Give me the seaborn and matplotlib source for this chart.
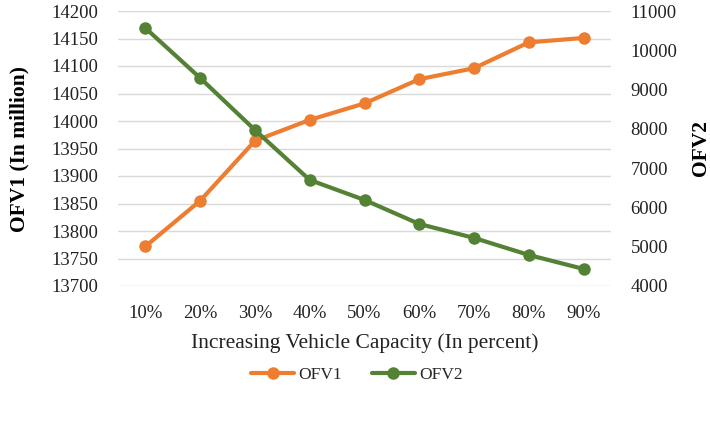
import matplotlib
matplotlib.use("Agg")
import matplotlib.pyplot as plt
import seaborn as sns
import pandas as pd
from matplotlib.lines import Line2D

categories = ["10%", "20%", "30%", "40%", "50%", "60%", "70%", "80%", "90%"]
ofv1 = [13772, 13855, 13964, 14002, 14032, 14076, 14096, 14143, 14151]
ofv2 = [10567, 9295, 7971, 6699, 6190, 5579, 5223, 4790, 4434]

df = pd.DataFrame({"cap": categories, "OFV1": ofv1, "OFV2": ofv2})

sns.set_theme(style="white")
plt.rcParams["font.family"] = ["Liberation Serif", "DejaVu Serif"]

orange = "#ED7D31"
green = "#548235"

fig = plt.figure(figsize=(7.10, 4.25), dpi=100)
ax = fig.add_axes([118/710, 1-286/425, (611-118)/710, (286-11)/425])
ax2 = ax.twinx()

sns.lineplot(data=df, x="cap", y="OFV1", ax=ax, color=orange, lw=3, marker="o",
             markersize=9, markeredgewidth=0, sort=False, zorder=3)
sns.lineplot(data=df, x="cap", y="OFV2", ax=ax2, color=green, lw=3, marker="o",
             markersize=9, markeredgewidth=0, sort=False, zorder=3)

ax.set_xlim(-0.5, len(categories) - 0.5)
ax.set_ylim(13700, 14200)
ax.set_yticks(range(13700, 14201, 50))
ax2.set_ylim(4000, 11000)
ax2.set_yticks(range(4000, 11001, 1000))

ax.grid(axis="y", color="#D9D9D9", lw=1)
ax.set_axisbelow(True)
for a in (ax, ax2):
    for s in a.spines.values():
        s.set_visible(False)
    a.tick_params(length=0, labelsize=13.5, colors="#222222")

ax.tick_params(axis="x", pad=14)
ax.tick_params(axis="y", pad=14)
ax2.tick_params(axis="y", pad=14)

ax.set_xlabel("Increasing Vehicle Capacity (In percent)", fontsize=15.5, labelpad=8, color="#222222")
ax.set_ylabel("OFV1 (In million)", fontsize=15.5, fontweight="bold", labelpad=16, color="black")
ax2.set_ylabel("OFV2", fontsize=15.5, fontweight="bold", labelpad=10, color="black")

handles = [Line2D([], [], color=orange, lw=3, marker="o", markersize=9, markeredgewidth=0),
           Line2D([], [], color=green, lw=3, marker="o", markersize=9, markeredgewidth=0)]
fig.legend(handles, ["OFV1", "OFV2"], loc="center", bbox_to_anchor=(357/710, 1-375/425),
           ncol=2, frameon=False, fontsize=12.5, handlelength=2.5, columnspacing=1.7, handletextpad=0.25)

fig.savefig("out.png", dpi=100)
